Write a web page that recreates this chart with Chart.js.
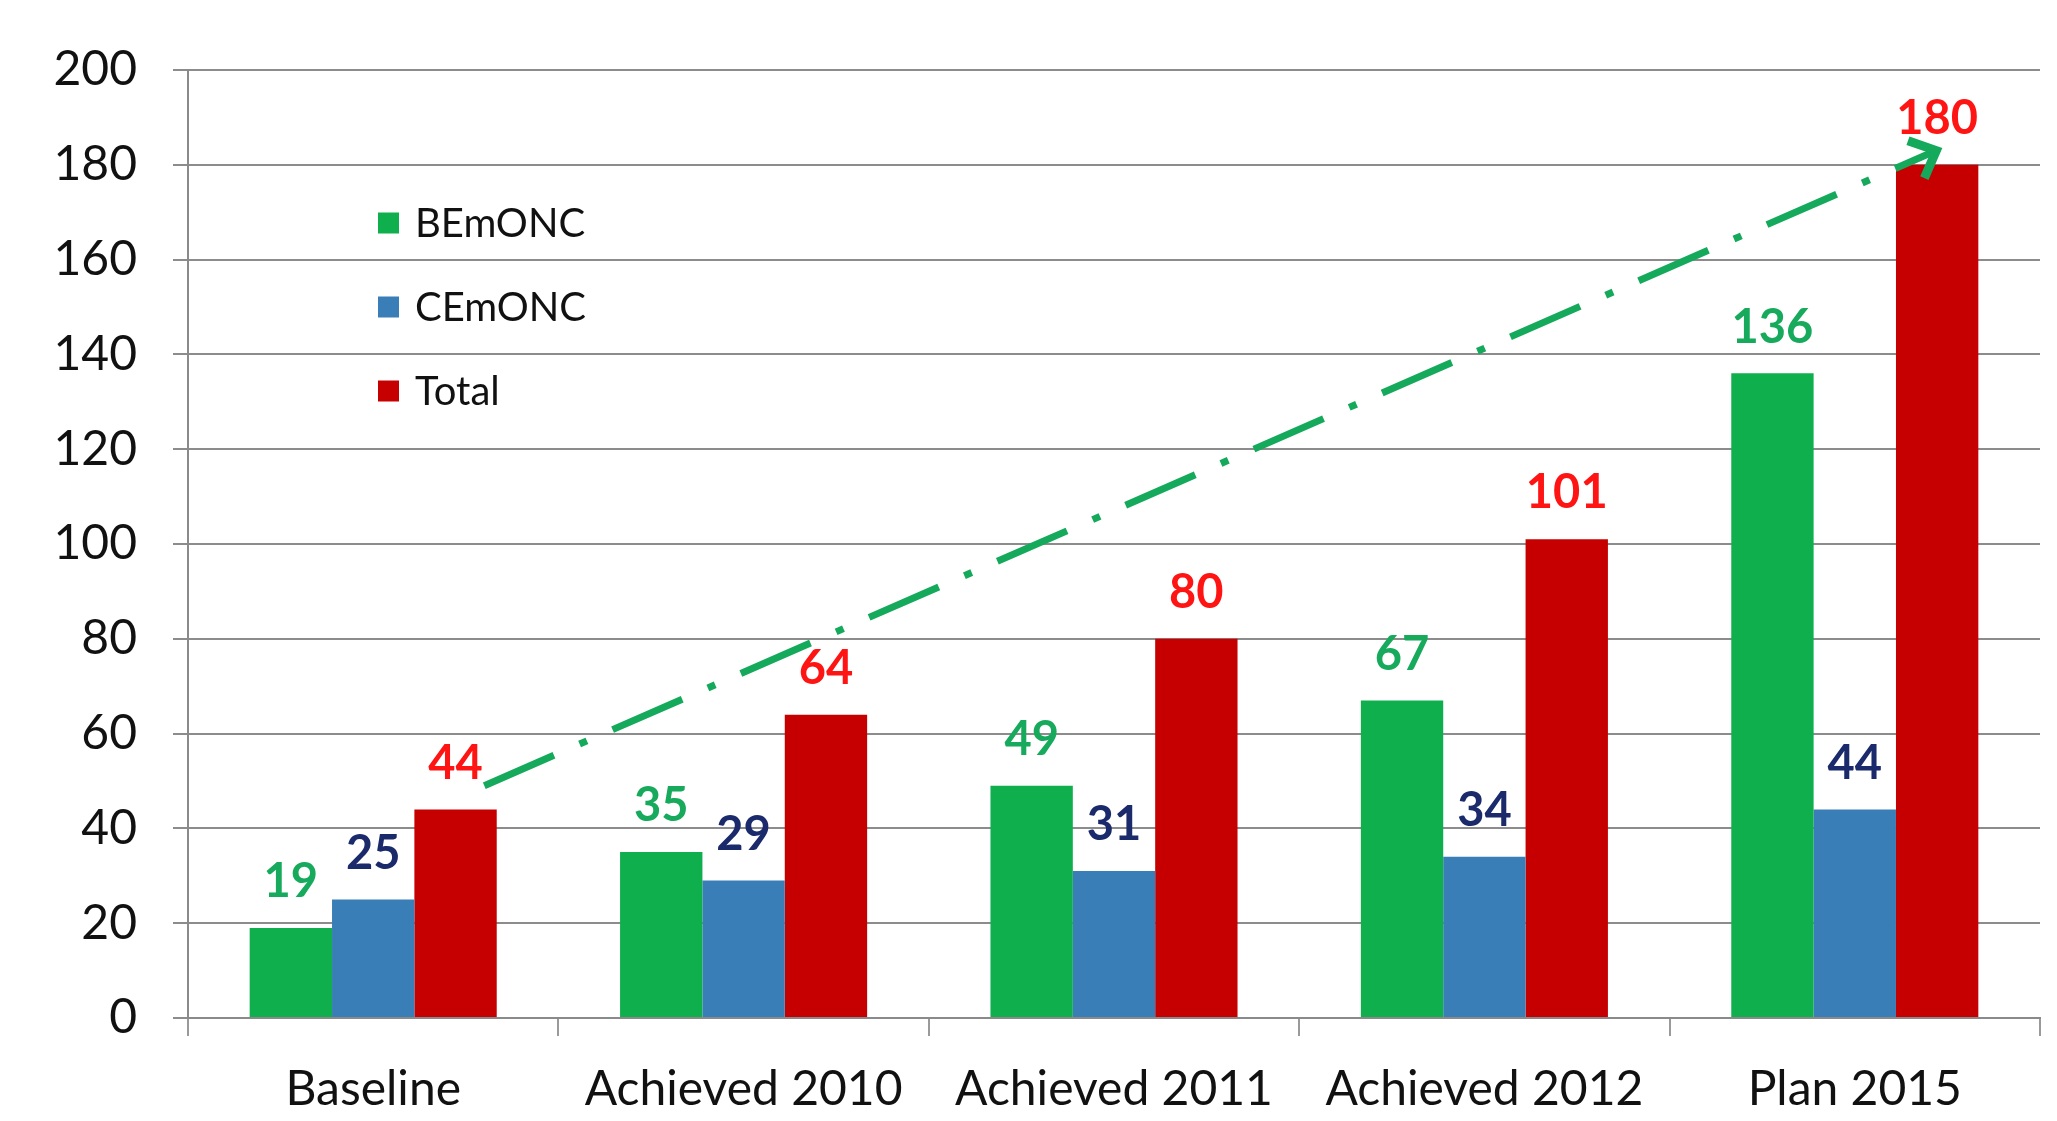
<!DOCTYPE html>
<html>
<head>
<meta charset="utf-8">
<script src="https://cdn.jsdelivr.net/npm/chart.js@4/dist/chart.umd.min.js"></script>
<style>
  html,body{margin:0;padding:0;background:#fff;}
  #wrap{position:relative;width:2057px;height:1121px;}
</style>
</head>
<body>
<div id="wrap"><canvas id="c" width="2057" height="1121"></canvas></div>
<script>
const categories = ['Baseline', 'Achieved 2010', 'Achieved 2011', 'Achieved 2012', 'Plan 2015'];
const seriesNames = ['BEmONC', 'CEmONC', 'Total'];
const bemonc = [19, 35, 49, 67, 136];
const cemonc = [25, 29, 31, 34, 44];
const total = [44, 64, 80, 101, 180];
const yTickValues = [0, 20, 40, 60, 80, 100, 120, 140, 160, 180, 200];
// trend arrow (category-index x, value y)
const trendX = [0.30, 4.22];
const trendY = [49, 183];

const barColors = ['#0FAF4E', '#3A7EB8', '#C60000'];
const labelColors = ['#17AA5C', '#1B2A6B', '#FF1414'];
const trendColor = '#14A95B';
const FONT = 'Lato, "Open Sans", sans-serif';

const valueLabels = {
  id: 'valueLabels',
  afterDatasetsDraw(chart) {
    const ctx = chart.ctx;
    ctx.save();
    ctx.font = 'bold 47px ' + FONT;
    ctx.textAlign = 'center';
    ctx.textBaseline = 'middle';
    chart.data.datasets.forEach((ds, i) => {
      const meta = chart.getDatasetMeta(i);
      ctx.fillStyle = labelColors[i];
      meta.data.forEach((bar, j) => {
        ctx.fillText(String(ds.data[j]), bar.x, bar.y - 46);
      });
    });
    ctx.restore();
  }
};

// dash-dot trend arrow, positioned through the chart's own scales
const trendArrow = {
  id: 'trendArrow',
  afterDatasetsDraw(chart) {
    const xs = chart.scales.x, ys = chart.scales.y;
    const p0 = xs.getPixelForValue(0), p1 = xs.getPixelForValue(1);
    const px = v => p0 + v * (p1 - p0);
    const pts = trendX.map((v, i) => ({ x: px(v), y: ys.getPixelForValue(trendY[i]) }));
    const ctx = chart.ctx;
    ctx.save();
    ctx.strokeStyle = trendColor;
    ctx.lineWidth = 7;
    ctx.lineCap = 'butt';
    ctx.setLineDash([76, 28, 8, 28]);
    ctx.beginPath();
    ctx.moveTo(pts[0].x, pts[0].y);
    for (let i = 1; i < pts.length; i++) ctx.lineTo(pts[i].x, pts[i].y);
    ctx.stroke();
    ctx.setLineDash([]);
    const a = pts[pts.length - 2], b = pts[pts.length - 1];
    const ang = Math.atan2(b.y - a.y, b.x - a.x);
    const L = 30, spread = 0.75;
    ctx.lineWidth = 9;
    ctx.lineJoin = 'miter';
    ctx.beginPath();
    ctx.moveTo(b.x - L * Math.cos(ang - spread), b.y - L * Math.sin(ang - spread));
    ctx.lineTo(b.x, b.y);
    ctx.lineTo(b.x - L * Math.cos(ang + spread), b.y - L * Math.sin(ang + spread));
    ctx.stroke();
    ctx.restore();
  }
};

const customLegend = {
  id: 'customLegend',
  afterDraw(chart) {
    const ctx = chart.ctx;
    ctx.save();
    ctx.font = '40px ' + FONT;
    ctx.textBaseline = 'middle';
    ctx.textAlign = 'left';
    const x0 = 378, y0 = 223, step = 84, box = 21;
    chart.data.datasets.forEach((ds, i) => {
      const y = y0 + i * step;
      ctx.fillStyle = ds.backgroundColor;
      ctx.fillRect(x0, y - box / 2, box, box);
      ctx.fillStyle = '#111';
      ctx.fillText(ds.label, x0 + 37, y + 1);
    });
    ctx.restore();
  }
};

const datasets = [bemonc, cemonc, total].map((vals, i) => ({
  label: seriesNames[i],
  data: vals,
  backgroundColor: barColors[i],
  borderWidth: 0
}));

new Chart(document.getElementById('c'), {
  type: 'bar',
  data: { labels: categories, datasets: datasets },
  plugins: [valueLabels, trendArrow, customLegend],
  options: {
    responsive: false,
    animation: false,
    devicePixelRatio: 1,
    datasets: { bar: { barPercentage: 1.0, categoryPercentage: 0.667 } },
    layout: { padding: { top: 70, right: 17, left: 0, bottom: 0 } },
    plugins: { legend: { display: false }, tooltip: { enabled: false } },
    scales: {
      x: {
        offset: true,
        grid: { display: true, drawOnChartArea: false, drawTicks: true, tickLength: 18, color: '#9a9a9a', lineWidth: 2, offset: true },
        border: { display: true, color: '#8a8a8a', width: 2 },
        ticks: { font: { family: FONT, size: 48 }, color: '#111', padding: 25, maxRotation: 0, autoSkip: false },
        afterFit(scale) { scale.height = 103; }
      },
      y: {
        min: 0,
        max: 200,
        afterBuildTicks(scale) { scale.ticks = yTickValues.map(v => ({ value: v })); },
        grid: { color: '#8c8c8c', lineWidth: 2, drawTicks: true, tickLength: 15 },
        border: { display: true, color: '#8a8a8a', width: 2 },
        ticks: { font: { family: FONT, size: 48 }, color: '#111', padding: 36 },
        afterFit(scale) { scale.width = 188; }
      }
    }
  }
});
</script>
</body>
</html>
